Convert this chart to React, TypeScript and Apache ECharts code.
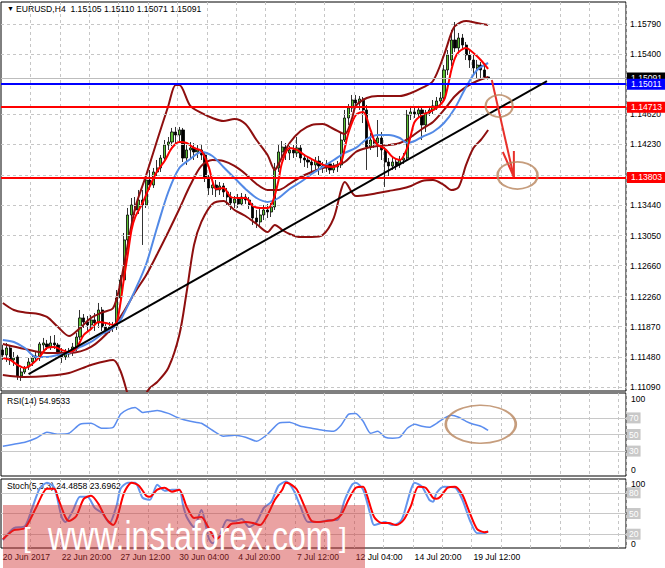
import * as echarts from 'echarts';
import { useEffect, useRef } from 'react';

const FONT = '"Liberation Sans", Arial, sans-serif';
const SLOTS = 170; // bar slots visible across the chart window

const barSlots = Array.from({ length: SLOTS }, (_, i) => String(i));

// time axis labels: [bar index, label]
const timeLabels: [number, string][] = [
  [0, '20 Jun 2017'],
  [16, '22 Jun 20:00'],
  [32, '27 Jun 12:00'],
  [48, '30 Jun 04:00'],
  [64, '4 Jul 20:00'],
  [80, '7 Jul 12:00'],
  [96, '12 Jul 04:00'],
  [112, '14 Jul 20:00'],
  [128, '19 Jul 12:00'],
];

const priceTicks = [
  1.1109, 1.1148, 1.1187, 1.1226, 1.1266, 1.1305, 1.1344, 1.1383, 1.1423, 1.1462, 1.1501, 1.154, 1.1579,
];

// current price, then the drawn support/resistance levels
const currentPrice = 1.15091;
const blueLevel = 1.15011;
const redLevels = [1.14713, 1.13803];

const rsiLevels = [70, 50, 30];
const stochLevels = [80, 50, 20];

// EURUSD H4 candles: [open, close, low, high]
const candles = [
  [1.11569, 1.11505, 1.1144, 1.11634],
  [1.11505, 1.11595, 1.11414, 1.1166],
  [1.11595, 1.1144, 1.11375, 1.11634],
  [1.1144, 1.11466, 1.11362, 1.11543],
  [1.11479, 1.11233, 1.11181, 1.11505],
  [1.11233, 1.11284, 1.11168, 1.11336],
  [1.11284, 1.11336, 1.11258, 1.11362],
  [1.11349, 1.11414, 1.1131, 1.11466],
  [1.11414, 1.11466, 1.11362, 1.11505],
  [1.11466, 1.11492, 1.11414, 1.11543],
  [1.11466, 1.11647, 1.11427, 1.11673],
  [1.11634, 1.1166, 1.11569, 1.11725],
  [1.11647, 1.11608, 1.11569, 1.11699],
  [1.11608, 1.1166, 1.11569, 1.11751],
  [1.1166, 1.11634, 1.11582, 1.11763],
  [1.11634, 1.11543, 1.11492, 1.1166],
  [1.11543, 1.11479, 1.11401, 1.11595],
  [1.11479, 1.11517, 1.1144, 1.11582],
  [1.11517, 1.11543, 1.11466, 1.11595],
  [1.11543, 1.11608, 1.11492, 1.1166],
  [1.11595, 1.11737, 1.11556, 1.11789],
  [1.11737, 1.11984, 1.11699, 1.12087],
  [1.11984, 1.11932, 1.11854, 1.12035],
  [1.11932, 1.11893, 1.11815, 1.12009],
  [1.11893, 1.11958, 1.11828, 1.12022],
  [1.11958, 1.11919, 1.11815, 1.12048],
  [1.11919, 1.12087, 1.11854, 1.12178],
  [1.12087, 1.11867, 1.11815, 1.12126],
  [1.11867, 1.11828, 1.11776, 1.11919],
  [1.11828, 1.11867, 1.11789, 1.11932],
  [1.11867, 1.1188, 1.11802, 1.11932],
  [1.11867, 1.12243, 1.11828, 1.12346],
  [1.12243, 1.12476, 1.12191, 1.1254],
  [1.12476, 1.12994, 1.12437, 1.13084],
  [1.12994, 1.13317, 1.12929, 1.13408],
  [1.13317, 1.13447, 1.13227, 1.13537],
  [1.13447, 1.13382, 1.13317, 1.1355],
  [1.13382, 1.13511, 1.1333, 1.13641],
  [1.13511, 1.13447, 1.12929, 1.13641],
  [1.13447, 1.1377, 1.13408, 1.13835],
  [1.1377, 1.13705, 1.13641, 1.139],
  [1.13705, 1.13874, 1.13667, 1.13926],
  [1.13874, 1.13926, 1.13822, 1.14029],
  [1.13926, 1.14055, 1.13874, 1.14094],
  [1.14055, 1.14223, 1.14029, 1.14288],
  [1.14223, 1.14262, 1.14159, 1.14327],
  [1.14262, 1.14392, 1.1421, 1.14444],
  [1.14392, 1.14353, 1.14249, 1.14457],
  [1.14353, 1.14418, 1.14262, 1.14457],
  [1.14418, 1.14055, 1.14003, 1.14444],
  [1.14055, 1.14159, 1.13965, 1.14223],
  [1.14159, 1.14185, 1.14055, 1.14262],
  [1.14185, 1.14133, 1.14029, 1.14249],
  [1.14133, 1.14159, 1.14055, 1.14223],
  [1.14159, 1.14094, 1.14029, 1.14223],
  [1.14094, 1.13809, 1.13744, 1.14133],
  [1.13809, 1.13667, 1.13576, 1.13835],
  [1.13667, 1.13705, 1.13576, 1.1377],
  [1.13705, 1.13641, 1.1355, 1.1377],
  [1.13641, 1.13693, 1.13576, 1.13744],
  [1.13693, 1.13615, 1.1355, 1.13731],
  [1.13615, 1.1355, 1.13447, 1.13667],
  [1.1355, 1.13473, 1.13382, 1.13615],
  [1.13473, 1.13524, 1.13408, 1.13563],
  [1.13524, 1.1346, 1.13408, 1.13589],
  [1.1346, 1.1355, 1.13434, 1.13602],
  [1.1355, 1.13511, 1.1346, 1.13589],
  [1.13511, 1.13447, 1.13395, 1.1355],
  [1.13447, 1.13278, 1.13188, 1.13473],
  [1.13278, 1.13227, 1.13149, 1.13382],
  [1.13227, 1.13317, 1.13162, 1.13408],
  [1.13317, 1.13382, 1.13252, 1.13447],
  [1.13382, 1.13356, 1.13278, 1.1346],
  [1.13356, 1.13421, 1.13291, 1.13473],
  [1.13421, 1.13926, 1.13382, 1.13991],
  [1.13926, 1.14133, 1.13874, 1.14223],
  [1.14133, 1.14197, 1.14055, 1.14275],
  [1.14197, 1.1412, 1.14029, 1.14249],
  [1.1412, 1.14159, 1.14029, 1.1421],
  [1.14159, 1.1412, 1.14055, 1.14223],
  [1.1412, 1.14185, 1.14068, 1.14327],
  [1.14185, 1.14055, 1.13991, 1.14223],
  [1.14055, 1.14029, 1.13939, 1.14107],
  [1.14029, 1.14003, 1.13926, 1.14068],
  [1.14003, 1.13965, 1.13874, 1.14055],
  [1.13965, 1.14016, 1.139, 1.14068],
  [1.14016, 1.13952, 1.13835, 1.14081],
  [1.13952, 1.13926, 1.13861, 1.14003],
  [1.13926, 1.13978, 1.13874, 1.14029],
  [1.13978, 1.139, 1.13848, 1.14003],
  [1.139, 1.13939, 1.13861, 1.13991],
  [1.13939, 1.13965, 1.13874, 1.14016],
  [1.13965, 1.14288, 1.13926, 1.14392],
  [1.14288, 1.14573, 1.14262, 1.14677],
  [1.14573, 1.14703, 1.14483, 1.14754],
  [1.14703, 1.14806, 1.14651, 1.14871],
  [1.14806, 1.14767, 1.14703, 1.14871],
  [1.14767, 1.14819, 1.14677, 1.14858],
  [1.14819, 1.14677, 1.14508, 1.14845],
  [1.14677, 1.14197, 1.139, 1.14742],
  [1.14197, 1.14288, 1.14159, 1.14379],
  [1.14288, 1.14249, 1.14185, 1.14353],
  [1.14249, 1.14314, 1.14068, 1.14547],
  [1.14314, 1.14159, 1.14029, 1.14392],
  [1.14159, 1.14003, 1.1368, 1.14197],
  [1.14003, 1.13952, 1.13822, 1.14055],
  [1.13952, 1.14003, 1.139, 1.14055],
  [1.14003, 1.13965, 1.139, 1.14055],
  [1.13965, 1.14029, 1.13926, 1.14081],
  [1.14029, 1.14055, 1.13978, 1.1412],
  [1.14055, 1.14612, 1.14029, 1.14677],
  [1.14612, 1.14651, 1.14547, 1.14729],
  [1.14651, 1.14625, 1.14573, 1.14703],
  [1.14625, 1.14677, 1.14586, 1.14729],
  [1.14677, 1.14483, 1.14288, 1.14703],
  [1.14483, 1.14638, 1.14392, 1.14677],
  [1.14638, 1.14677, 1.14599, 1.14729],
  [1.14677, 1.14729, 1.14625, 1.14806],
  [1.14729, 1.14793, 1.14677, 1.14845],
  [1.14793, 1.14832, 1.14742, 1.1491],
  [1.14832, 1.15195, 1.1478, 1.15259],
  [1.15195, 1.15389, 1.1513, 1.15454],
  [1.15324, 1.15583, 1.15246, 1.15713],
  [1.15583, 1.1548, 1.15428, 1.15816],
  [1.1548, 1.15609, 1.15428, 1.15674],
  [1.15609, 1.15518, 1.15454, 1.15661],
  [1.15518, 1.15389, 1.15324, 1.15557],
  [1.15389, 1.15324, 1.15221, 1.15454],
  [1.15324, 1.15221, 1.1513, 1.15389],
  [1.15221, 1.15259, 1.15091, 1.15324],
  [1.15259, 1.15195, 1.15091, 1.15298],
  [1.15195, 1.15105, 1.15091, 1.15285],
  [1.15105, 1.15091, 1.15071, 1.1511],
];

// indicator lines: [bar index, value]
const bbUpper = [
  [0, 1.12178], [3, 1.12087], [6, 1.12055], [9, 1.12042], [12, 1.11997], [15, 1.11867], [18, 1.11751],
  [21, 1.11854], [24, 1.11984], [27, 1.12055], [30, 1.12113], [32, 1.12437], [33, 1.12683], [36, 1.13408],
  [39, 1.13835], [42, 1.14288], [45, 1.14729], [47, 1.15], [48, 1.15], [51, 1.14729], [54, 1.14638],
  [57, 1.14573], [60, 1.14534], [63, 1.1456], [66, 1.14495], [69, 1.14288], [72, 1.14094], [74, 1.139],
  [75, 1.13978], [78, 1.14249], [81, 1.14405], [84, 1.14483], [87, 1.14495], [90, 1.14431], [93, 1.14366],
  [95, 1.14573], [96, 1.14729], [99, 1.14832], [102, 1.14858], [105, 1.14858], [108, 1.14858],
  [111, 1.14897], [114, 1.14962], [117, 1.15052], [120, 1.15389], [122, 1.15674], [123, 1.15764],
  [126, 1.15829], [129, 1.15803], [132, 1.15777],
];

const bbMiddle = [
  [0, 1.11647], [6, 1.11582], [12, 1.1153], [18, 1.1153], [24, 1.11608], [30, 1.11867], [33, 1.12074],
  [36, 1.1232], [39, 1.1254], [42, 1.12812], [45, 1.13097], [48, 1.13395], [51, 1.13705], [54, 1.13952],
  [57, 1.14029], [60, 1.14016], [63, 1.13952], [66, 1.13848], [69, 1.13719], [72, 1.13641], [75, 1.13641],
  [78, 1.13719], [81, 1.13809], [84, 1.13874], [87, 1.13926], [90, 1.13952], [93, 1.14003], [96, 1.14133],
  [99, 1.14185], [102, 1.1421], [105, 1.14223], [108, 1.14249], [111, 1.14327], [114, 1.14431],
  [117, 1.14521], [120, 1.14677], [123, 1.14858], [126, 1.14975], [129, 1.15052], [132, 1.15104],
];

const bbLower = [
  [0, 1.11246], [6, 1.1122], [12, 1.11233], [18, 1.11271], [24, 1.11375], [30, 1.1144], [32, 1.11297],
  [34, 1.10987], [36, 1.10663], [38, 1.10922], [40, 1.11077], [42, 1.11155], [45, 1.11336], [48, 1.11763],
  [50, 1.1232], [52, 1.12929], [54, 1.13227], [57, 1.1346], [60, 1.13499], [63, 1.13382], [66, 1.13304],
  [69, 1.13201], [72, 1.13097], [74, 1.13188], [76, 1.13123], [78, 1.13071], [81, 1.13032], [84, 1.13032],
  [87, 1.13058], [90, 1.13278], [92, 1.13641], [93, 1.13744], [96, 1.13563], [99, 1.13576], [102, 1.13602],
  [105, 1.13628], [108, 1.13654], [111, 1.13693], [114, 1.13757], [117, 1.1377], [120, 1.13705],
  [122, 1.13641], [124, 1.1368], [126, 1.13965], [128, 1.14185], [130, 1.14288], [132, 1.14418],
];

const fastMa = [
  [0, 1.11466], [2, 1.1144], [4, 1.11375], [6, 1.11336], [8, 1.11388], [10, 1.11479], [12, 1.11595],
  [14, 1.11608], [16, 1.11569], [18, 1.11543], [20, 1.11595], [22, 1.11763], [24, 1.11841], [26, 1.11932],
  [28, 1.11919], [30, 1.11893], [31, 1.11932], [32, 1.12178], [33, 1.12514], [34, 1.12812], [35, 1.13123],
  [36, 1.13291], [38, 1.13473], [40, 1.13693], [42, 1.13887], [44, 1.14016], [46, 1.14185], [48, 1.14262],
  [50, 1.14249], [52, 1.14185], [54, 1.14146], [56, 1.13939], [57, 1.13757], [58, 1.13654], [60, 1.13667],
  [62, 1.1355], [64, 1.13537], [66, 1.13537], [68, 1.13434], [70, 1.13408], [72, 1.13408], [73, 1.13447],
  [74, 1.13576], [75, 1.1377], [76, 1.14003], [78, 1.14185], [80, 1.14159], [82, 1.14094], [84, 1.14042],
  [86, 1.13991], [88, 1.13952], [90, 1.13939], [92, 1.14003], [93, 1.14185], [94, 1.14379], [96, 1.14612],
  [98, 1.14651], [100, 1.14418], [101, 1.14288], [102, 1.14223], [104, 1.14172], [106, 1.14068],
  [108, 1.14029], [110, 1.14185], [111, 1.14353], [112, 1.14521], [114, 1.14612], [116, 1.14651],
  [118, 1.14703], [120, 1.14806], [121, 1.14975], [122, 1.15195], [123, 1.1535], [124, 1.15428],
  [126, 1.1548], [128, 1.15415], [130, 1.15324], [132, 1.15208],
];

const slowMa = [
  [0, 1.11699], [3, 1.11673], [6, 1.11595], [9, 1.11479], [12, 1.11479], [15, 1.11505], [18, 1.1153],
  [21, 1.11608], [24, 1.11673], [27, 1.11776], [30, 1.11854], [32, 1.11958], [33, 1.12048], [36, 1.12346],
  [39, 1.12683], [42, 1.13162], [45, 1.13615], [48, 1.13926], [51, 1.14042], [54, 1.14133], [57, 1.14081],
  [60, 1.13939], [63, 1.13796], [66, 1.13654], [69, 1.13537], [72, 1.13486], [75, 1.13537], [78, 1.13654],
  [81, 1.13744], [84, 1.13848], [87, 1.13939], [90, 1.14029], [93, 1.1412], [96, 1.14185], [99, 1.14301],
  [102, 1.14353], [105, 1.14353], [108, 1.14314], [110, 1.14249], [112, 1.14275], [114, 1.14327],
  [117, 1.14392], [120, 1.14508], [123, 1.14703], [126, 1.14975], [129, 1.15195], [132, 1.15285],
];

const trendLine = [[7, 1.11258], [148, 1.15052]];
const arrowShaft = [[133, 1.15065], [139, 1.13809]];
const arrowHead = [[136, 1.14133], [139, 1.13809], [139, 1.14146]];
const priceCircles = [[135, 1.14729], [140, 1.13829]];

const rsi = [
  [0, 35.9], [3, 38.3], [6, 40.7], [9, 45.5], [12, 52.7], [15, 50.3], [18, 51.5], [21, 62.3], [24, 63.5],
  [27, 57.5], [30, 58.7], [32, 74.3], [34, 80.2], [36, 82.6], [38, 76.6], [40, 77.8], [42, 79.0], [45, 75.4],
  [48, 69.5], [51, 65.9], [54, 63.5], [57, 55.1], [60, 47.9], [63, 49.1], [66, 46.7], [69, 41.9], [72, 50.3],
  [75, 63.5], [78, 64.7], [81, 59.9], [84, 57.5], [87, 55.1], [90, 53.9], [92, 61.1], [94, 74.3], [96, 75.4],
  [98, 65.9], [100, 51.5], [102, 53.9], [104, 46.7], [106, 45.5], [108, 46.7], [110, 57.5], [112, 62.3],
  [114, 59.9], [116, 58.7], [118, 63.5], [120, 69.5], [122, 73.1], [124, 70.7], [126, 65.9], [128, 62.3],
  [130, 59.9], [132, 54.9533],
];
const rsiCircle = [[130, 62.3]];

const stochMain = [
  [0, 11.3], [3, 28.8], [6, 31.8], [8, 58.1], [10, 85.9], [12, 94.7], [14, 87.4], [16, 44.9], [17, 37.6],
  [19, 53.7], [21, 74.2], [23, 74.2], [25, 58.1], [27, 50.8], [29, 36.2], [31, 62.5], [32, 85.9], [34, 94.7],
  [36, 94.7], [38, 72.8], [40, 69.8], [42, 91.8], [44, 83.0], [46, 84.5], [48, 84.5], [49, 62.5], [50, 44.9],
  [52, 30.3], [54, 55.1], [56, 14.2], [57, 6.9], [59, 18.6], [61, 40.6], [63, 39.1], [65, 41.9], [67, 30.3],
  [69, 37.6], [71, 58.1], [73, 66.9], [75, 90.3], [77, 96.2], [79, 84.5], [81, 59.6], [83, 37.6], [86, 37.6],
  [89, 40.6], [91, 40.6], [93, 69.8], [95, 91.8], [96, 94.7], [98, 84.5], [100, 47.9], [101, 33.2],
  [104, 37.6], [106, 33.2], [108, 37.6], [109, 47.9], [111, 84.5], [112, 94.7], [114, 88.9], [116, 69.8],
  [117, 66.9], [118, 80.1], [120, 88.9], [123, 87.4], [125, 69.8], [127, 40.6], [129, 21.5], [131, 21.5],
  [132, 24.4858],
];

const stochSignal = [
  [0, 12.7], [3, 25.9], [6, 28.8], [9, 58.1], [12, 85.9], [14, 85.9], [15, 72.8], [17, 44.9], [18, 39.1],
  [20, 46.4], [22, 71.3], [24, 75.7], [26, 64.0], [28, 43.5], [30, 33.2], [31, 42.0], [33, 80.1], [35, 94.7],
  [37, 90.3], [39, 75.7], [40, 74.2], [42, 84.5], [44, 87.4], [46, 81.6], [48, 84.5], [50, 59.6], [52, 43.5],
  [54, 44.9], [56, 28.8], [58, 12.7], [60, 21.5], [62, 34.7], [64, 36.2], [66, 37.6], [68, 36.2], [70, 33.2],
  [72, 47.9], [74, 69.8], [76, 84.5], [77, 94.7], [78, 93.2], [80, 84.5], [82, 61.0], [84, 39.1], [86, 37.6],
  [88, 39.1], [90, 40.6], [92, 47.9], [94, 69.8], [96, 87.4], [98, 88.9], [99, 77.2], [101, 44.9],
  [103, 36.2], [105, 36.2], [107, 33.2], [109, 40.6], [111, 61.0], [113, 88.9], [115, 87.4], [117, 72.8],
  [118, 71.3], [119, 74.2], [121, 87.4], [123, 88.9], [125, 77.2], [127, 50.8], [129, 27.4], [131, 23.0],
  [132, 23.6962],
];

const labelMap = new Map(timeLabels);
const last = candles[candles.length - 1];
const headerText = `EURUSD,H4  ${last[0].toFixed(5)} ${last[3].toFixed(5)} ${last[2].toFixed(5)} ${last[1].toFixed(5)}`;
const rsiText = `RSI(14) ${rsi[rsi.length - 1][1].toFixed(4)}`;
const stochText = `Stoch(5,3,3) ${stochMain[stochMain.length - 1][1].toFixed(4)} ${stochSignal[stochSignal.length - 1][1].toFixed(4)}`;

const dashed = { color: '#C6C6C6', type: [3, 3], width: 1 };
const txt = { fontSize: 8.6, fontFamily: FONT };

const xAxisFor = (gridIndex: number, withLabels: boolean) => ({
  type: 'category',
  gridIndex,
  data: barSlots,
  boundaryGap: true,
  axisLine: { show: false },
  axisTick: { show: false },
  axisLabel: withLabels
    ? {
        interval: (i: number) => labelMap.has(i),
        formatter: (_v: string, i: number) => labelMap.get(i) || '',
        align: 'left',
        margin: 4,
        color: '#000',
        ...txt,
      }
    : { show: false },
  splitLine: { show: true, interval: (i: number) => i > 0 && i % 8 === 0, lineStyle: dashed },
});

const line = (data: number[][], color: string, width: number, axis: number, z: number, smooth: number | boolean = 0.3) => ({
  type: 'line',
  xAxisIndex: axis,
  yAxisIndex: axis,
  data,
  symbol: 'none',
  smooth,
  silent: true,
  z,
  lineStyle: { color, width },
  itemStyle: { color },
});

const levelLabel = { position: 'end', formatter: '{b}', color: '#fff', padding: [1, 4, 0, 4], lineHeight: 10, distance: 1, ...txt };

const option = {
  animation: false,
  backgroundColor: '#fff',
  grid: [
    { left: 1, top: 2, width: 625, height: 389, show: true, borderColor: '#000', borderWidth: 1, outerBoundsMode: 'none' },
    { left: 1, top: 393, width: 625, height: 83, show: true, borderColor: '#000', borderWidth: 1, outerBoundsMode: 'none' },
    { left: 1, top: 479, width: 625, height: 69, show: true, borderColor: '#000', borderWidth: 1, outerBoundsMode: 'none' },
  ],
  xAxis: [xAxisFor(0, false), xAxisFor(1, false), xAxisFor(2, true)],
  yAxis: [
    { type: 'value', gridIndex: 0, min: 1.11038, max: 1.16075, show: false },
    { type: 'value', gridIndex: 1, min: 0, max: 100, show: false },
    { type: 'value', gridIndex: 2, min: 0, max: 100, show: false },
  ],
  series: [
    {
      type: 'line',
      xAxisIndex: 0,
      yAxisIndex: 0,
      data: [],
      z: 1,
      silent: true,
      markLine: {
        silent: true,
        symbol: 'none',
        precision: 5,
        lineStyle: dashed,
        label: { position: 'end', formatter: '{b}', color: '#000', distance: 4, lineHeight: 9, ...txt },
        data: priceTicks.map((v) => ({
          name: v.toFixed(5),
          yAxis: v,
          label: { show: ![blueLevel, ...redLevels].some((l) => Math.abs(l - v) < 0.0005) },
        })),
      },
    },
    {
      type: 'candlestick',
      xAxisIndex: 0,
      yAxisIndex: 0,
      data: candles,
      barWidth: 2.6,
      z: 2,
      silent: true,
      itemStyle: { color: '#5CC234', color0: '#000', borderColor: '#000', borderColor0: '#000', borderWidth: 0.8 },
    },
    line(bbUpper, '#8E0F0F', 2, 0, 3),
    line(bbMiddle, '#8E0F0F', 2, 0, 3),
    line(bbLower, '#8E0F0F', 2, 0, 3),
    line(slowMa, '#5289E6', 2, 0, 4),
    line(fastMa, '#FF0000', 2, 0, 4),
    line(trendLine, '#000', 2, 0, 5, false),
    {
      type: 'line',
      xAxisIndex: 0,
      yAxisIndex: 0,
      data: [],
      z: 6,
      silent: true,
      markLine: {
        silent: true,
        symbol: 'none',
        precision: 5,
        data: [
          { name: currentPrice.toFixed(5), yAxis: currentPrice, lineStyle: { color: '#BDBDBD', width: 1, type: 'solid' }, label: { ...levelLabel, backgroundColor: '#000' } },
          { name: blueLevel.toFixed(5), yAxis: blueLevel, lineStyle: { color: '#0000FF', width: 2, type: 'solid' }, label: { ...levelLabel, backgroundColor: '#0000FF' } },
          ...redLevels.map((v) => ({
            name: v.toFixed(5),
            yAxis: v,
            lineStyle: { color: '#FF0000', width: 2, type: 'solid' },
            label: { ...levelLabel, backgroundColor: '#FF0000' },
          })),
        ],
      },
    },
    line(arrowShaft, '#E8302A', 2, 0, 7, false),
    line(arrowHead, '#E8302A', 2, 0, 7, false),
    {
      type: 'scatter',
      xAxisIndex: 0,
      yAxisIndex: 0,
      silent: true,
      z: 8,
      symbol: 'circle',
      itemStyle: { color: 'rgba(0,0,0,0)', borderColor: '#B8845C', borderWidth: 2 },
      data: [
        { value: priceCircles[0], symbolSize: [27, 22] },
        { value: priceCircles[1], symbolSize: [40, 27] },
      ],
    },
    {
      ...line(rsi, '#5B8DEF', 1.5, 1, 3, 0.2),
      markLine: {
        silent: true,
        symbol: 'none',
        precision: 2,
        lineStyle: { color: '#C8C8C8', width: 1, type: 'solid' },
        label: { ...levelLabel, backgroundColor: '#C8C8C8', padding: [1, 2, 0, 2] },
        data: rsiLevels.map((v) => ({ name: String(v), yAxis: v })),
      },
    },
    {
      type: 'scatter',
      xAxisIndex: 1,
      yAxisIndex: 1,
      silent: true,
      z: 8,
      symbol: 'circle',
      symbolSize: [70, 38],
      itemStyle: { color: 'rgba(0,0,0,0)', borderColor: '#B8845C', borderWidth: 2 },
      data: rsiCircle,
    },
    {
      ...line(stochMain, '#6495ED', 2, 2, 3, 0.25),
      markLine: {
        silent: true,
        symbol: 'none',
        precision: 2,
        lineStyle: { color: '#C8C8C8', width: 1, type: 'solid' },
        label: { ...levelLabel, backgroundColor: '#C8C8C8', padding: [1, 2, 0, 2] },
        data: stochLevels.map((v) => ({ name: String(v), yAxis: v })),
      },
    },
    line(stochSignal, '#FF0000', 2, 2, 4, 0.25),
  ],
  graphic: [
    { type: 'text', x: 7, y: 5, silent: true, style: { text: '▼', fontSize: 7, fill: '#000' } },
    { type: 'text', x: 16, y: 4, silent: true, style: { text: headerText, fill: '#000', ...txt } },
    { type: 'text', x: 7, y: 396, silent: true, style: { text: rsiText, fill: '#000', ...txt } },
    { type: 'text', x: 7, y: 481, silent: true, style: { text: stochText, fill: '#000', ...txt } },
    { type: 'text', x: 631, y: 394, silent: true, style: { text: '100', fill: '#000', ...txt } },
    { type: 'text', x: 631, y: 465, silent: true, style: { text: '0', fill: '#000', ...txt } },
    { type: 'text', x: 631, y: 479, silent: true, style: { text: '100', fill: '#000', ...txt } },
    { type: 'text', x: 631, y: 539, silent: true, style: { text: '0', fill: '#000', ...txt } },
    {
      type: 'rect',
      z: 100,
      silent: true,
      shape: { x: 3, y: 505, width: 362, height: 63 },
      style: { fill: 'rgba(208,48,48,0.45)' },
    },
    {
      type: 'text',
      z: 101,
      silent: true,
      x: 48,
      y: 556,
      scaleX: 0.8,
      style: { text: 'www.instaforex.com', fontSize: 40, fontFamily: FONT, fill: '#fff', verticalAlign: 'bottom' },
    },
    { type: 'text', z: 101, silent: true, x: 23, y: 551, style: { text: '[', fontSize: 28, fontFamily: FONT, fill: '#fff', verticalAlign: 'bottom' } },
    { type: 'text', z: 101, silent: true, x: 339, y: 551, style: { text: ']', fontSize: 28, fontFamily: FONT, fill: '#fff', verticalAlign: 'bottom' } },
  ],
};

const App = () => {
  const chartRef = useRef<HTMLDivElement>(null);

  useEffect(() => {
    const chart = echarts.init(chartRef.current, null, { renderer: 'svg' });
    chart.setOption(option as any);
    return () => {
      chart.dispose();
    };
  }, []);

  return (
    <div
      ref={chartRef}
      style={{ position: 'fixed', left: 0, top: 0, width: 665, height: 568, background: '#fff' }}
    />
  );
};

export default App;
